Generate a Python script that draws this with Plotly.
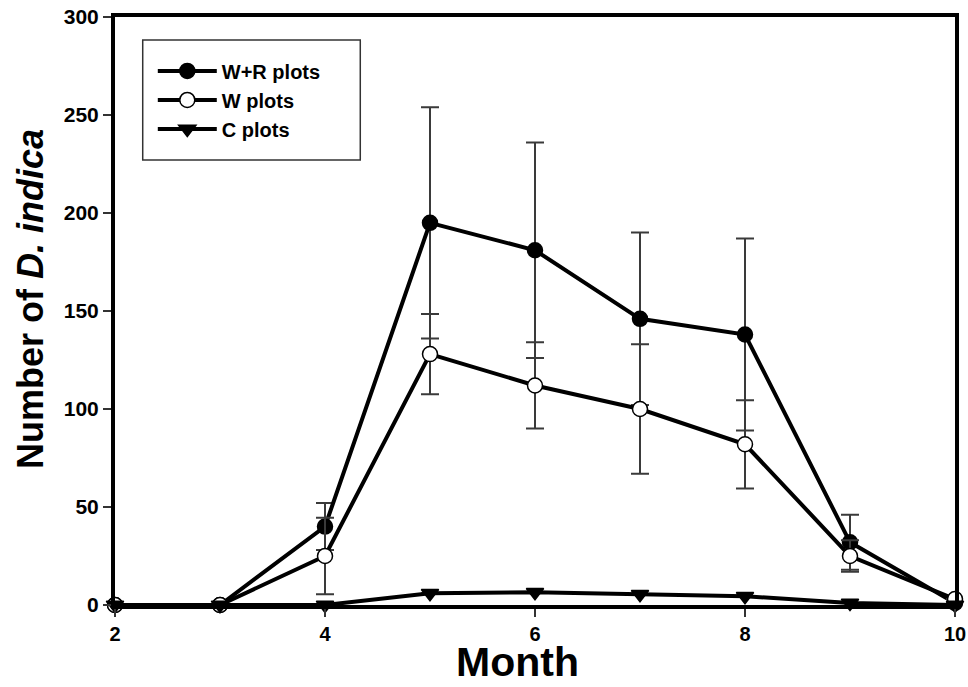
import plotly.graph_objects as go

months = [2, 3, 4, 5, 6, 7, 8, 9, 10]
wr_mean = [0, 0, 40, 195, 181, 146, 138, 32, 1]
wr_err = [0, 0, 12, 59, 55, 44, 49, 14, 0]
w_mean = [0, 0, 25, 128, 112, 100, 82, 25, 3]
w_err = [0, 0, 19.5, 20.5, 22, 33, 22.5, 8, 0]
c_mean = [0, 0, 0, 6, 6.5, 5.5, 4.5, 1, 0]
c_err = [0, 0, 0, 0, 0, 0, 0, 0, 0]
series_names = ["W+R plots", "W plots", "C plots"]
x_ticks = [2, 4, 6, 8, 10]
y_ticks = [0, 50, 100, 150, 200, 250, 300]
x_title = "Month"
y_title = "Number of <i>D. indica</i>"

FONT = "Liberation Sans, Arial, sans-serif"

fig = go.Figure()

def add(name, y, err, symbol, mcolor):
    fig.add_trace(go.Scatter(
        x=months, y=y, name=name, mode="lines+markers",
        line=dict(color="black", width=4),
        marker=dict(symbol=symbol, size=15, color=mcolor,
                    line=dict(color="black", width=1.5)),
        error_y=dict(type="data", array=err, visible=True,
                     color="#3a3a3a", thickness=2, width=9),
        cliponaxis=False,
    ))

add(series_names[0], wr_mean, wr_err, "circle", "black")
add(series_names[1], w_mean, w_err, "circle", "white")
add(series_names[2], c_mean, c_err, "triangle-down", "black")

fig.add_shape(type="rect", xref="paper", yref="paper",
              x0=0.033, x1=0.292, y0=0.757, y1=0.961,
              line=dict(color="#333333", width=1.5), fillcolor="rgba(0,0,0,0)")

fig.add_annotation(text=x_title, xref="paper", yref="paper", x=0.4786, y=-0.097,
                   xanchor="center", yanchor="middle", showarrow=False,
                   font=dict(size=41, weight="bold", family=FONT, color="black"))
fig.add_annotation(text=y_title, xref="paper", yref="paper", x=-0.1012, y=0.5204,
                   xanchor="center", yanchor="middle", showarrow=False, textangle=-90,
                   font=dict(size=36, weight="bold", family=FONT, color="black"))

fig.update_layout(
    width=968, height=687,
    margin=dict(l=115, r=13, t=17, b=82),
    paper_bgcolor="white", plot_bgcolor="white",
    font=dict(family=FONT, color="black"),
    showlegend=True,
    legend=dict(x=0.045, y=0.859, xanchor="left", yanchor="middle",
                bgcolor="rgba(0,0,0,0)", borderwidth=0,
                font=dict(size=20, weight="bold", family=FONT),
                itemwidth=59, tracegroupgap=0),
    xaxis=dict(range=[2, 10], tickvals=x_ticks, ticks="outside", ticklen=8,
               tickwidth=1.5, tickcolor="#333", showline=True, linewidth=4,
               linecolor="black", mirror=True, showgrid=False, zeroline=False,
               automargin=False, ticklabeloverflow="allow",
               tickfont=dict(size=20, weight="bold", family=FONT)),
    yaxis=dict(range=[0, 300], tickvals=y_ticks, ticks="outside", ticklen=8,
               tickwidth=1.5, tickcolor="#333", showline=True, linewidth=4,
               linecolor="black", mirror=True, showgrid=False, zeroline=False,
               automargin=False, ticklabeloverflow="allow",
               tickfont=dict(size=21, weight="bold", family=FONT)),
)

fig.write_html("out.html", config={"displayModeBar": False},
               post_script="document.body.style.margin='0';document.body.style.overflow='hidden';")
